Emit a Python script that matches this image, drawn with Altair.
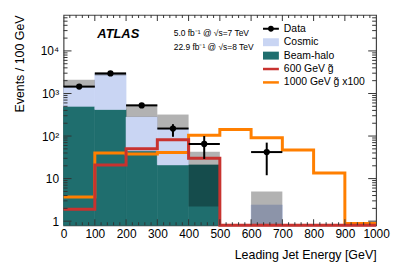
import altair as alt
import pandas as pd

# ---------------- data ----------------
bin_lo = [0, 100, 200, 300, 400, 500, 600, 700, 800, 900]
bin_hi = [100, 200, 300, 400, 500, 600, 700, 800, 900, 1000]
beam_halo = [500, 420, 45, 21, 21, 0, 0, 0, 0, 0]          # teal stack
bkg_total = [1400, 2900, 280, 150, 21, 0, 2.4, 0, 0, 0]     # beam-halo + cosmic
band_lo = [1400, 2650, 280, 150, 2.2, 0, 0, 0, 0, 0]        # uncertainty band
band_hi = [2100, 3150, 550, 320, 43, 0, 5, 0, 0, 0]

data_edge_lo = [0, 100, 200, 300, 400, 600]
data_edge_hi = [100, 200, 300, 400, 500, 700]
data_x = [50, 150, 250, 350, 450, 650]
data_y = [1450, 2950, 525, 150, 65, 42]
data_err_lo = [1410, 2900, 505, 96, 29, 12]
data_err_hi = [1490, 3000, 545, 190, 100, 70]

sig600 = [1.9, 21, 50, 82, 30, 0, 0, 0, 0, 0]
sig1000 = [3.7, 40, 38, 41, 105, 143, 91, 47, 13.5, 0.88]

x_major = [0, 100, 200, 300, 400, 500, 600, 700, 800, 900, 1000]
y_major = [1, 10, 100, 1000, 10000]

legend_entries = ["Data", "Cosmic", "Beam-halo", "600 GeV g\u0303", "1000 GeV g\u0303 x100"]

# ---------------- styling ----------------
Y_MIN, Y_MAX = 0.8, 7e4
W, H = 315, 212
TEAL = "#1f6e6e"
COSMIC = "#c9d5f3"
RED = "#c8322f"
ORANGE = "#ff7f00"
FONT = "Liberation Sans"
TICK = "#333333"

x_minor = [v for v in range(0, 1001, 20) if v % 100 != 0]
y_minor = [m * 10 ** k for k in range(0, 5) for m in range(2, 10) if m * 10 ** k < Y_MAX]

xs = alt.Scale(domain=[0, 1000], nice=False, zero=False)
ys = alt.Scale(type="log", domain=[Y_MIN, Y_MAX], nice=False)

bins = pd.DataFrame(dict(lo=bin_lo, hi=bin_hi, halo=beam_halo, total=bkg_total,
                         blo=band_lo, bhi=band_hi))
pts = pd.DataFrame(dict(elo=data_edge_lo, ehi=data_edge_hi, x=data_x, y=data_y,
                        ylo=data_err_lo, yhi=data_err_hi))


def step_df(vals):
    return pd.DataFrame(dict(x=bin_lo + [bin_hi[-1]], v=vals + [vals[-1]]))


ax_x_lab = alt.Axis(orient="bottom", values=x_major, ticks=False, domain=False, grid=False,
                    format="d",
                    labelFont=FONT, labelFontSize=12, labelColor="black", labelPadding=3,
                    labelFlush=False, labelOverlap=False,
                    title="Leading Jet Energy [GeV]", titleFont=FONT, titleFontSize=12.5,
                    titleFontWeight="normal", titleColor="black", titleAlign="right",
                    titleBaseline="alphabetic", titleX=W, titleY=33)
ax_y_lab = alt.Axis(orient="left", values=y_major, ticks=False, domain=False, grid=False,
                    labelFont=FONT, labelFontSize=12, labelColor="black", labelPadding=5,
                    labelOverlap=False,
                    labelExpr="datum.value == 1 ? '1' : datum.value == 10 ? '10' : datum.value == 100 ? '10\u00b2' : datum.value == 1000 ? '10\u00b3' : '10\u2074'",
                    title="Events / 100 GeV", titleFont=FONT, titleFontSize=12.5,
                    titleFontWeight="normal", titleColor="black", titleAngle=270,
                    titleAlign="right", titleBaseline="alphabetic", titleX=-40, titleY=0)

# beam-halo
halo = alt.Chart(bins).transform_filter("datum.halo > 0").transform_calculate(
    base=f"{Y_MIN}").mark_rect(color=TEAL, stroke=TEAL, strokeWidth=0.6).encode(
    x=alt.X("lo:Q", scale=xs, axis=ax_x_lab), x2="hi:Q",
    y=alt.Y("halo:Q", scale=ys, axis=ax_y_lab), y2="base:Q")

# cosmic
cosmic = alt.Chart(bins).transform_filter("datum.total > datum.halo").transform_calculate(
    low=f"max(datum.halo, {Y_MIN})").mark_rect(color=COSMIC, stroke=COSMIC,
                                                strokeWidth=0.6).encode(
    x=alt.X("lo:Q", scale=xs, axis=None), x2="hi:Q",
    y=alt.Y("total:Q", scale=ys, axis=None), y2="low:Q")

# uncertainty band
band = alt.Chart(bins).transform_filter("datum.bhi > 0").transform_calculate(
    low=f"max(datum.blo, {Y_MIN})").mark_rect(color="black", opacity=0.3).encode(
    x=alt.X("lo:Q", scale=xs, axis=None), x2="hi:Q",
    y=alt.Y("bhi:Q", scale=ys, axis=None), y2="low:Q")

orange = alt.Chart(step_df(sig1000)).transform_calculate(
    vv=f"max(datum.v, {Y_MIN})").mark_line(interpolate="step-after", color=ORANGE,
                                            strokeWidth=3).encode(
    x=alt.X("x:Q", scale=xs, axis=None),
    y=alt.Y("vv:Q", scale=ys, axis=None))

red = alt.Chart(step_df(sig600)).transform_calculate(
    vv=f"max(datum.v, {Y_MIN})").mark_line(interpolate="step-after", color=RED,
                                            strokeWidth=3).encode(
    x=alt.X("x:Q", scale=xs, axis=None),
    y=alt.Y("vv:Q", scale=ys, axis=None))

hbar = alt.Chart(pts).mark_rule(color="black", strokeWidth=2).encode(
    x=alt.X("elo:Q", scale=xs, axis=None), x2="ehi:Q",
    y=alt.Y("y:Q", scale=ys, axis=None))
vbar = alt.Chart(pts).mark_rule(color="black", strokeWidth=2).encode(
    x=alt.X("x:Q", scale=xs, axis=None),
    y=alt.Y("ylo:Q", scale=ys, axis=None), y2="yhi:Q")
dots = alt.Chart(pts).mark_point(filled=True, color="black", size=40, opacity=1).encode(
    x=alt.X("x:Q", scale=xs, axis=None),
    y=alt.Y("y:Q", scale=ys, axis=None))


# inward axis ticks (ROOT style) on all four sides, placed by the scales
def yticks(values, length, inner_pos):
    return alt.Chart(pd.DataFrame({"v": values})).mark_tick(
        orient="horizontal", size=length, thickness=1, color=TICK, opacity=1).encode(
        y=alt.Y("v:Q", scale=ys, axis=None), x=alt.value(inner_pos))


def xticks(values, length, inner_pos):
    return alt.Chart(pd.DataFrame({"v": values})).mark_tick(
        orient="vertical", size=length, thickness=1, color=TICK, opacity=1).encode(
        x=alt.X("v:Q", scale=xs, axis=None), y=alt.value(inner_pos))


tick_layers = [
    yticks(y_major, 8, 4), yticks(y_minor, 4, 2),
    yticks(y_major, 8, W - 4), yticks(y_minor, 4, W - 2),
    xticks(x_major[1:-1], 6, H - 3), xticks(x_minor, 3, H - 1.5),
    xticks(x_major[1:-1], 6, 3), xticks(x_minor, 3, 1.5),
]

# legend (library legend with custom symbol paths)
sym_paths = [
    "M-1.333,-0.167H1.333V0.167H-1.333Z M0.5,0A0.5,0.5,0,1,1,-0.5,0A0.5,0.5,0,1,1,0.5,0Z",
    "M-1.333,-0.667H1.333V0.667H-1.333Z",
    "M-1.333,-0.667H1.333V0.667H-1.333Z",
    "M-1.333,-0.208H1.333V0.208H-1.333Z",
    "M-1.333,-0.208H1.333V0.208H-1.333Z",
]
sym_colors = ["black", COSMIC, TEAL, RED, ORANGE]
leg = alt.Legend(orient="none", legendX=203, legendY=8, title=None, symbolSize=144,
                 symbolOpacity=1, symbolStrokeWidth=0, labelFont=FONT, labelFontSize=10.5,
                 labelColor="black", labelOffset=7, rowPadding=1.5, padding=0,
                 labelLimit=300)
legend_layer = alt.Chart(pd.DataFrame({"entry": legend_entries})).mark_point(
    filled=True, opacity=0).encode(
    fill=alt.Fill("entry:N", scale=alt.Scale(domain=legend_entries, range=sym_colors),
                  legend=leg),
    shape=alt.Shape("entry:N", scale=alt.Scale(domain=legend_entries, range=sym_paths),
                    legend=leg))


def label(text, x, y, size, weight="normal", style="normal"):
    return alt.Chart(pd.DataFrame({"t": [text]})).mark_text(
        align="left", baseline="alphabetic", font=FONT, fontSize=size,
        fontWeight=weight, fontStyle=style, color="black").encode(
        text="t:N", x=alt.value(x), y=alt.value(y))


atlas = label("ATLAS", 34, 23, 13, "bold", "italic")
lumi1 = label("5.0 fb\u207b\u00b9 @ \u221as=7 TeV", 111, 21, 8.5)
lumi2 = label("22.9 fb\u207b\u00b9 @ \u221as=8 TeV", 111, 35.5, 8.5)

chart = alt.layer(halo, cosmic, band, orange, red, hbar, vbar, dots, *tick_layers,
                  legend_layer, atlas, lumi1, lumi2).resolve_axis(
    x="independent", y="independent").properties(
    width=W, height=H,
    autosize=alt.AutoSizeParams(type="none"),
    padding={"left": 56, "top": 6, "right": 15, "bottom": 36},
).configure_view(stroke="#444444", strokeWidth=1.2)

chart.save("out.html", embed_options={"renderer": "svg", "actions": False})
